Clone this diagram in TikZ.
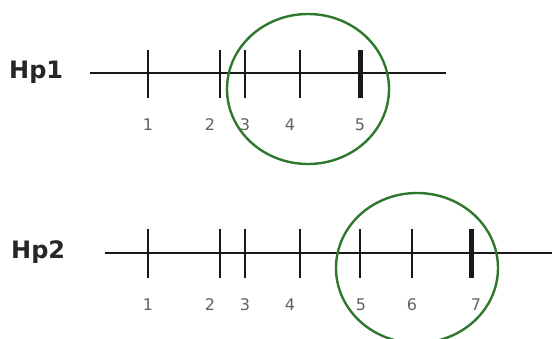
\documentclass[tikz,border=0pt]{standalone}
\usepackage{fontspec}
\setmainfont{DejaVu Sans}
\usetikzlibrary{positioning,calc}
\definecolor{zonegreen}{RGB}{45,120,45}

\begin{document}
\begin{tikzpicture}[
  x=1pt, y=-1pt,
  axis/.style={line width=2.8pt, draw=black!90},
  tickmark/.style={line width=2.8pt, draw=black!90},
  heavytick/.style={line width=5pt, draw=black!90},
  num/.style={font=\fontsize{16}{16}\selectfont, text=black!62, inner sep=0pt},
  hplabel/.style={font=\bfseries\fontsize{24}{24}\selectfont, text=black!85, inner sep=0pt, anchor=west},
  zone/.style={draw=zonegreen, line width=2.4pt}
]
\useasboundingbox (0,0) rectangle (552,338);
\clip (0,0) rectangle (552,338);

% Hp1 row
\node[hplabel] (hp1) at (9,72) {Hp1};
\coordinate (a1s) at (90,73);
\coordinate (a1e) at (446,73);
\draw[axis] (a1s) -- (a1e);
\foreach \x/\n in {148/1, 220/2, 245/3, 300/4} {
  \coordinate (t1top\n) at (\x,50);
  \coordinate (t1bot\n) at (\x,98);
  \draw[tickmark] (t1top\n) -- (t1bot\n);
}
\coordinate (t1top5) at (360,50);
\coordinate (t1bot5) at (360,98);
\draw[heavytick] (t1top5) -- (t1bot5);
\foreach \x/\n in {148/1, 210/2, 245/3, 290/4, 360/5}
  \node[num] (n1\n) at (\x,125) {\n};
\draw[zone] (308,89) ellipse [x radius=81, y radius=75];

% Hp2 row
\node[hplabel] (hp2) at (11,252) {Hp2};
\coordinate (a2s) at (105,253);
\coordinate (a2e) at (552,253);
\draw[axis] (a2s) -- (a2e);
\foreach \x/\n in {148/1, 220/2, 245/3, 300/4, 360/5, 412/6} {
  \coordinate (t2top\n) at (\x,229);
  \coordinate (t2bot\n) at (\x,278);
  \draw[tickmark] (t2top\n) -- (t2bot\n);
}
\coordinate (t2top7) at (471,229);
\coordinate (t2bot7) at (471,278);
\draw[heavytick] (t2top7) -- (t2bot7);
\foreach \x/\n in {148/1, 210/2, 245/3, 290/4, 361/5, 412/6, 476/7}
  \node[num] (n2\n) at (\x,305) {\n};
\draw[zone] (417,268) ellipse [x radius=81, y radius=75];

\end{tikzpicture}
\end{document}
